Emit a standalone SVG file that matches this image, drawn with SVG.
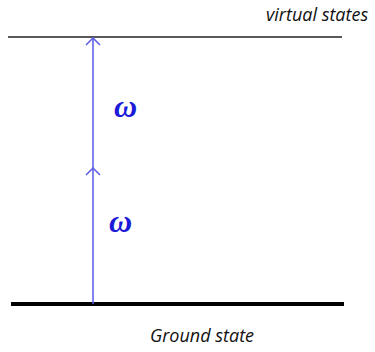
<svg xmlns="http://www.w3.org/2000/svg" width="375" height="352" viewBox="0 0 375 352">
<style>
.lbl{font-family:"Open Sans","Liberation Sans",sans-serif;font-style:italic;font-size:18px;fill:#111}
.om{font-family:"Liberation Serif","DejaVu Serif",serif;font-style:italic;font-weight:bold;font-size:32px;fill:#1a1ad8}
.arr{stroke:#5a5ae6;stroke-width:1.5;fill:none}
</style>
<rect width="375" height="352" fill="#fff"/>
<g id="virtual">
<line x1="8" y1="37" x2="342" y2="37" stroke="#222" stroke-width="1.3"/>
<text class="lbl" x="266" y="21">virtual states</text>
</g>
<g id="ground">
<line x1="11" y1="304" x2="344" y2="304" stroke="#000" stroke-width="4"/>
<text class="lbl" x="150" y="342">Ground state</text>
</g>
<g id="connectors">
<line class="arr" x1="93" y1="304" x2="93" y2="38"/>
<polyline class="arr" points="86,45 93,38 100,45"/>
<polyline class="arr" points="86,175 93,168 100,175"/>
</g>
<g id="omega1"><text class="om" x="114" y="117">ω</text></g>
<g id="omega2"><text class="om" x="109" y="232">ω</text></g>
</svg>
